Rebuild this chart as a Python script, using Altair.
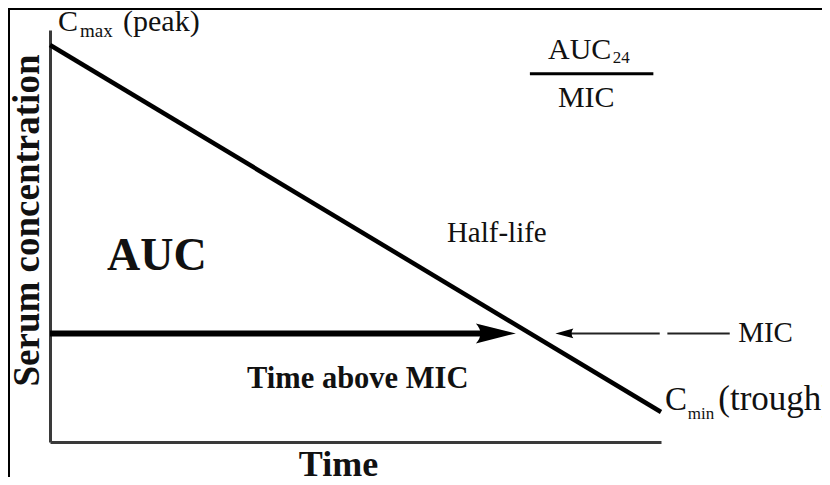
import altair as alt
import pandas as pd

# --- schematic PK curve (time in h, concentration in arbitrary units) ---
curve_time = [0, 24]
curve_conc = [10.6, 0.8]
mic_level = 2.9

# "time above MIC" arrow (start / tip, in h)
tam_time = [0, 18.3]
# MIC pointer arrow (tip, gap start, gap end, tail), in h
pointer_time = [19.85, 23.95, 24.25, 26.7]
# AUC24 / MIC fraction bar
frac_time = [18.85, 23.7]
frac_conc = 9.83

# annotation texts (regular serif)
reg_text = ["C", "max", "(peak)", "AUC", "24", "MIC", "Half-life", "MIC", "C", "min", "(trough)"]
reg_t = [0.31, 1.18, 2.87, 19.56, 22.1, 19.95, 15.59, 27.03, 24.16, 25.05, 26.25]
reg_c = [10.98, 10.81, 10.98, 10.23, 10.12, 8.94, 5.34, 2.67, 0.85, 0.62, 0.85]
reg_fs = [30, 19, 30, 30, 17, 30, 29, 29, 33, 17, 35]

# annotation texts (bold serif)
bold_text = ["AUC", "Time above MIC"]
bold_t = [2.24, 7.74]
bold_c = [4.59, 1.44]
bold_fs = [46, 30.5]

FONT = "Liberation Serif"
INK = "#111111"
W, H = 611, 412

x_scale = alt.Scale(domain=[0, 24], nice=False, zero=False)
y_scale = alt.Scale(domain=[0, 11], nice=False, zero=False)

curve_df = pd.DataFrame({"t": curve_time, "c": curve_conc})
base = alt.Chart(curve_df)

curve = base.mark_line(color="black", strokeWidth=4.5, clip=False).encode(
    x=alt.X("t:Q", scale=x_scale,
            axis=alt.Axis(title="Time", ticks=False, labels=False, grid=False,
                          domainColor="#3a3a3a", domainWidth=3,
                          titleFont=FONT, titleFontSize=36, titleFontWeight="bold",
                          titleColor=INK, titleX=288, titleY=33,
                          titleAlign="center", titleBaseline="alphabetic")),
    y=alt.Y("c:Q", scale=y_scale,
            axis=alt.Axis(title="Serum concentration", ticks=False, labels=False, grid=False,
                          domainColor="#3a3a3a", domainWidth=3,
                          titleFont=FONT, titleFontSize=37, titleFontWeight="bold",
                          titleColor=INK, titleX=-12, titleY=190, titleAngle=270,
                          titleAlign="center", titleBaseline="alphabetic")),
)

tam_df = pd.DataFrame({"t": [tam_time[0]], "t2": [tam_time[1] - 1.2], "c": [mic_level]})
tam_shaft = alt.Chart(tam_df).mark_rule(color="black", strokeWidth=6, clip=False).encode(
    x=alt.X("t:Q", scale=x_scale), x2="t2:Q", y=alt.Y("c:Q", scale=y_scale))

head_path = "M1,0 L-1,-0.5 Q-0.55,0 -1,0.5 Z"
tam_head = alt.Chart(pd.DataFrame({"t": [tam_time[1]], "c": [mic_level]})).mark_point(
    shape=head_path, size=1600, filled=True, color="black", opacity=1,
    xOffset=-20, clip=False).encode(
    x=alt.X("t:Q", scale=x_scale), y=alt.Y("c:Q", scale=y_scale))

ptr_df = pd.DataFrame({"t": [pointer_time[0] + 0.4, pointer_time[2]],
                       "t2": [pointer_time[1], pointer_time[3]],
                       "c": [mic_level, mic_level]})
ptr_line = alt.Chart(ptr_df).mark_rule(color="#222222", strokeWidth=2, clip=False).encode(
    x=alt.X("t:Q", scale=x_scale), x2="t2:Q", y=alt.Y("c:Q", scale=y_scale))

ptr_path = "M-1,0 L1,-0.55 Q0.6,0 1,0.55 Z"
ptr_head = alt.Chart(pd.DataFrame({"t": [pointer_time[0]], "c": [mic_level]})).mark_point(
    shape=ptr_path, size=324, filled=True, color="black", opacity=1,
    xOffset=9, clip=False).encode(
    x=alt.X("t:Q", scale=x_scale), y=alt.Y("c:Q", scale=y_scale))

frac_df = pd.DataFrame({"t": [frac_time[0]], "t2": [frac_time[1]], "c": [frac_conc]})
frac_bar = alt.Chart(frac_df).mark_rule(color="black", strokeWidth=3, clip=False).encode(
    x=alt.X("t:Q", scale=x_scale), x2="t2:Q", y=alt.Y("c:Q", scale=y_scale))

reg_df = pd.DataFrame({"text": reg_text, "t": reg_t, "c": reg_c, "fs": reg_fs})
reg_labels = alt.Chart(reg_df).mark_text(
    font=FONT, align="left", baseline="alphabetic", color=INK, clip=False).encode(
    x=alt.X("t:Q", scale=x_scale), y=alt.Y("c:Q", scale=y_scale),
    text="text:N", size=alt.Size("fs:Q", scale=None, legend=None))

bold_df = pd.DataFrame({"text": bold_text, "t": bold_t, "c": bold_c, "fs": bold_fs})
bold_labels = alt.Chart(bold_df).mark_text(
    font=FONT, fontWeight="bold", align="left", baseline="alphabetic", color=INK,
    clip=False).encode(
    x=alt.X("t:Q", scale=x_scale), y=alt.Y("c:Q", scale=y_scale),
    text="text:N", size=alt.Size("fs:Q", scale=None, legend=None))

# outer frame of the figure (left and top edges)
frame_left = alt.Chart(curve_df).mark_rule(color="black", strokeWidth=2, clip=False).encode(
    x=alt.value(-41), y=alt.value(-21), y2=alt.value(H + 40))
frame_top = alt.Chart(curve_df).mark_rule(color="black", strokeWidth=2, clip=False).encode(
    y=alt.value(-21), x=alt.value(-42), x2=alt.value(W + 170))

chart = alt.layer(
    frame_left, frame_top, curve, tam_shaft, tam_head, ptr_line, ptr_head, frac_bar,
    reg_labels, bold_labels
).properties(
    width=W, height=H,
    autosize=alt.AutoSizeParams(type="none"),
    padding={"left": 42, "top": 22, "right": 161, "bottom": 35},
    background="white",
).configure_view(stroke="transparent")

chart.save("out.html", embed_options={"renderer": "svg", "actions": False})
